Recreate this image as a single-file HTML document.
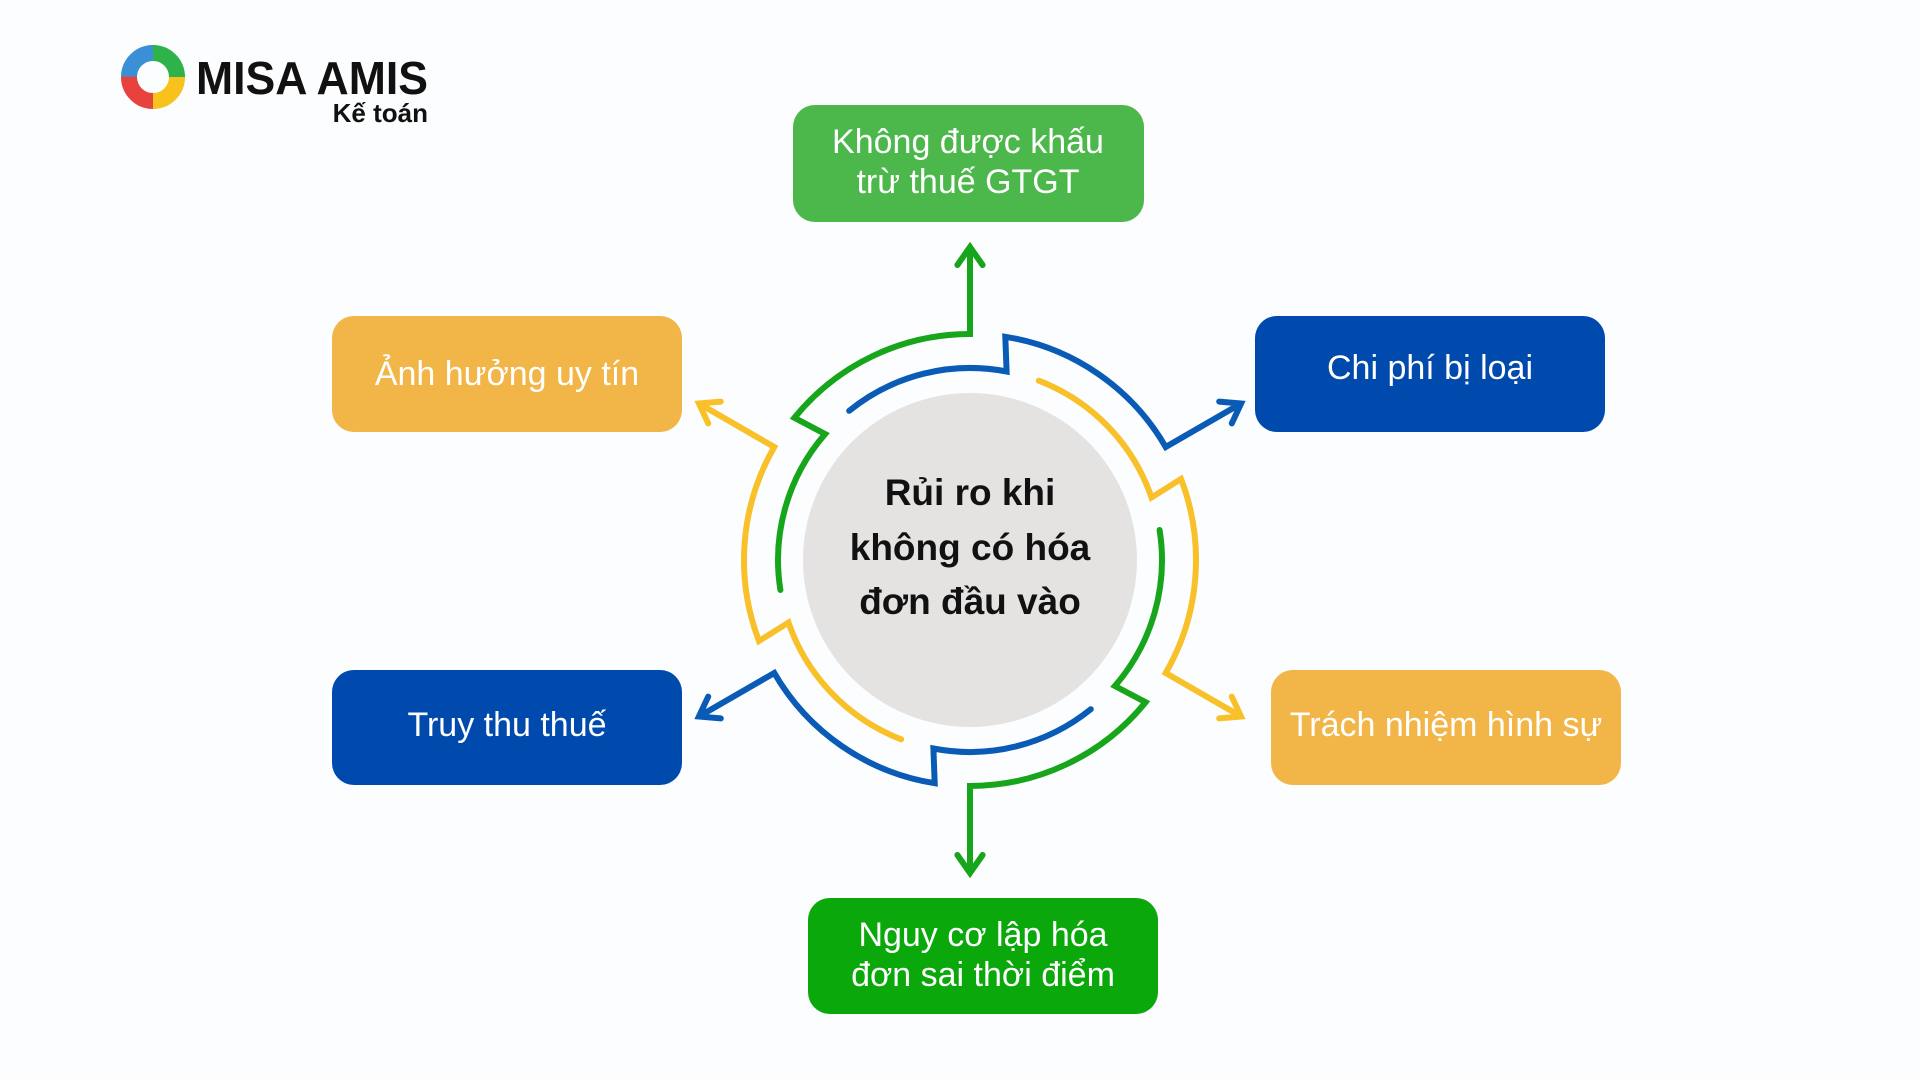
<!DOCTYPE html>
<html><head><meta charset="utf-8"><style>
html,body{margin:0;padding:0;background:#fcfdfe;}
svg{display:block}
</style></head><body>
<svg width="1920" height="1080" viewBox="0 0 1920 1080" xmlns="http://www.w3.org/2000/svg" font-family="'Liberation Sans', 'Noto Sans CJK SC', sans-serif">
<rect width="1920" height="1080" fill="#fcfdfe"/>
<!-- logo -->
<g transform="translate(153,77)">
<circle r="24" fill="none" stroke="#3a8fd6" stroke-width="16" stroke-dasharray="38 113" transform="rotate(180)"/>
<circle r="24" fill="none" stroke="#2fb24a" stroke-width="16" stroke-dasharray="38 113" transform="rotate(-90)"/>
<circle r="24" fill="none" stroke="#f6c21b" stroke-width="16" stroke-dasharray="38 113" transform="rotate(0)"/>
<circle r="24" fill="none" stroke="#e8423f" stroke-width="16" stroke-dasharray="38 113" transform="rotate(90)"/>
</g>
<text x="196" y="94" font-size="46" font-weight="bold" fill="#111" textLength="232" lengthAdjust="spacingAndGlyphs">MISA AMIS</text>
<text x="428" y="122" font-size="26" font-weight="bold" fill="#111" text-anchor="end">Kế toán</text>

<!-- center -->
<circle cx="970" cy="560" r="167" fill="#e4e3e2"/>
<g font-size="37" font-weight="bold" fill="#111" text-anchor="middle">
<text x="970" y="505">Rủi ro khi</text>
<text x="970" y="560">không có hóa</text>
<text x="970" y="614">đơn đầu vào</text>
</g>

<g fill="none" stroke-width="6" stroke-linecap="round" stroke-linejoin="miter">
<path stroke="#17a51c" d="M780.4,590 A192,192 0 0 1 825.1,434 L794.4,417.8 A226,226 0 0 1 970,334 L970,247 M957.4,265 L970,247 L982.6,265"/>
<path stroke="#0a5bb5" d="M849.2,410.8 A192,192 0 0 1 1006.6,371.5 L1005.3,336.8 A226,226 0 0 1 1165.7,447 L1241.1,403.5 M1231.8,423.4 L1241.1,403.5 L1219.2,401.6"/>
<path stroke="#f8c12a" d="M1038.8,380.7 A192,192 0 0 1 1151.5,497.5 L1181,479 A226,226 0 0 1 1165.7,673 L1241.1,716.5 M1219.2,718.4 L1241.1,716.5 L1231.8,696.6"/>
<path stroke="#17a51c" d="M1159.6,530 A192,192 0 0 1 1114.9,686 L1145.6,702.2 A226,226 0 0 1 970,786 L970,873 M957.4,855 L970,873 L982.6,855"/>
<path stroke="#0a5bb5" d="M1090.8,709.2 A192,192 0 0 1 933.4,748.5 L934.7,783.2 A226,226 0 0 1 774.3,673 L698.9,716.5 M708.2,696.6 L698.9,716.5 L720.8,718.4"/>
<path stroke="#f8c12a" d="M901.2,739.3 A192,192 0 0 1 788.5,622.5 L759,641 A226,226 0 0 1 774.3,447 L698.9,403.5 M720.8,401.6 L698.9,403.5 L708.2,423.4"/>
</g>

<!-- boxes -->
<rect x="793" y="105" width="351" height="117" rx="22" fill="#4cb84c"/>
<rect x="332" y="316" width="350" height="116" rx="22" fill="#f2b548"/>
<rect x="1255" y="316" width="350" height="116" rx="22" fill="#004aad"/>
<rect x="332" y="670" width="350" height="115" rx="22" fill="#004aad"/>
<rect x="1271" y="670" width="350" height="115" rx="22" fill="#f2b548"/>
<rect x="808" y="898" width="350" height="116" rx="22" fill="#0aa80a"/>
<g font-size="34" fill="#fff" text-anchor="middle">
<text x="968" y="153">Không được khấu</text>
<text x="968" y="193">trừ thuế GTGT</text>
<text x="507" y="385">Ảnh hưởng uy tín</text>
<text x="1430" y="379">Chi phí bị loại</text>
<text x="507" y="736">Truy thu thuế</text>
<text x="1446" y="736">Trách nhiệm hình sự</text>
<text x="983" y="946">Nguy cơ lập hóa</text>
<text x="983" y="986">đơn sai thời điểm</text>
</g>
</svg>
</body></html>
